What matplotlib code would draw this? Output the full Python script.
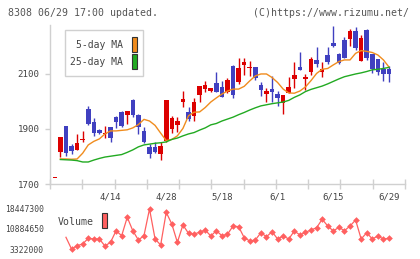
import numpy as np
import matplotlib
matplotlib.use("Agg")
import matplotlib.pyplot as plt
from matplotlib.patches import Rectangle

# candle data (index 0 = 3/31 ... index 60 = 6/29)
opens = [1721, 1817, 1911, 1838, 1825, 1861, 1973, 1925, 1896, 1881, 1907,
         1945, 1960, 1950, 2005, 1951, 1893, 1833, 1836, 1808, 1857,
         1899, 1915, 1997, 1962, 1948, 2025, 2044, 2039, 2066, 2052,
         2036, 2129, 2072, 2131, 2121, 2124, 2060, 2028, 2045, 2027,
         1993, 2030, 2082, 2127, 2081, 2108, 2151, 2108, 2169, 2214,
         2173, 2224, 2227, 2256, 2148, 2260, 2173, 2155, 2117, 2117]
closes = [1722, 1871, 1812, 1820, 1849, 1863, 1919, 1887, 1884, 1884, 1866,
          1926, 1911, 1965, 1951, 1908, 1854, 1808, 1817, 1839, 2005,
          1939, 1930, 2009, 1936, 1997, 2056, 2060, 2048, 2036, 2018,
          2078, 2024, 2121, 2142, 2125, 2084, 2042, 2038, 2036, 2014,
          2024, 2053, 2096, 2115, 2088, 2155, 2137, 2118, 2145, 2202,
          2141, 2159, 2256, 2196, 2230, 2159, 2117, 2106, 2100, 2100]
highs = [1722, 1871, 1911, 1845, 1882, 1894, 1985, 1939, 1900, 1911, 1907,
         1947, 1966, 1965, 2009, 1953, 1906, 1844, 1853, 1854, 2005,
         1947, 1945, 2038, 1981, 2012, 2056, 2076, 2050, 2106, 2075,
         2087, 2133, 2157, 2157, 2147, 2127, 2070, 2050, 2093, 2039,
         2024, 2090, 2145, 2181, 2100, 2161, 2199, 2142, 2197, 2276,
         2176, 2233, 2264, 2270, 2240, 2264, 2173, 2155, 2145, 2129]
lows = [1721, 1799, 1802, 1809, 1825, 1852, 1915, 1876, 1880, 1866, 1854,
        1902, 1906, 1918, 1945, 1880, 1848, 1793, 1812, 1787, 1853,
        1884, 1890, 1979, 1929, 1930, 1997, 2036, 2036, 2036, 2015,
        2030, 2014, 2064, 2096, 2094, 2078, 2021, 1999, 1997, 1985,
        1955, 2030, 2048, 2115, 2042, 2096, 2127, 2088, 2135, 2199,
        2135, 2159, 2203, 2187, 2148, 2152, 2102, 2096, 2075, 2070]

nan = np.nan
ma5 = [nan, 1791, 1791, 1790, 1791, 1812, 1842, 1855, 1864, 1882, 1893,
       1893, 1895, 1897, 1904, 1916, 1935, 1929, 1913, 1885, 1858,
       1862, 1875, 1902, 1948, 1961, 1962, 1978, 1998, 2013, 2027,
       2038, 2045, 2045, 2055, 2075, 2093, 2100, 2100, 2087, 2069,
       2045, 2031, 2030, 2038, 2053, 2076, 2102, 2117, 2120, 2133,
       2145, 2151, 2151, 2175, 2185, 2182, 2178, 2169, 2151, 2125]
ma25 = [nan, 1789, 1788, 1787, 1785, 1780, 1780, 1787, 1793, 1798, 1801,
        1804, 1807, 1815, 1824, 1835, 1842, 1845, 1848, 1850, 1853,
        1862, 1867, 1875, 1882, 1887, 1896, 1904, 1915, 1920, 1929,
        1936, 1943, 1952, 1960, 1969, 1977, 1984, 1988, 1992, 1995,
        1998, 2004, 2015, 2024, 2036, 2044, 2050, 2056, 2064, 2073,
        2082, 2090, 2095, 2100, 2104, 2109, 2115, 2117, 2120, 2124]

volume = [nan, nan, 7750000, 3430000, 4650000, 5280000, 7380000, 7120000,
          7120000, 4540000, 5900000, 10180000, 8340000, 15130000, 10180000,
          6750000, 8340000, 18190000, 7120000, 4910000, 16970000, 12660000,
          5900000, 12290000, 9220000, 8970000, 9590000, 10440000, 8230000,
          10180000, 8340000, 8860000, 11920000, 11660000, 7600000, 6380000,
          6750000, 9450000, 7970000, 9810000, 7120000, 8230000, 7120000,
          10070000, 8600000, 9590000, 10440000, 11290000, 14390000, 11920000,
          10070000, 11440000, 10180000, 11920000, 14130000, 7120000, 9450000,
          7120000, 8230000, 7120000, 7380000]

date_pos = [10, 20, 30, 40, 50, 60]
date_labels = ["4/14", "4/28", "5/18", "6/1", "6/15", "6/29"]
price_ticks = [1700, 1900, 2100]
vol_ticks = [3322000, 10884650, 18447300]
vol_labels = ["3322000", "10884650", "18447300"]

RED = "#dc0000"
BLUE = "#4040c0"
ORANGE = "#f08c1e"
GREEN = "#22aa22"
VOLC = "#ff6060"
AXC = "#d0d0d0"
TXT = "#444444"
MONO = "DejaVu Sans Mono"

W, H = 420, 259
fig = plt.figure(figsize=(W / 100, H / 100), dpi=100)

XLO, XHI = -0.867, 62.87


def frac(x0, y0, x1, y1):
    return [x0 / W, 1 - y1 / H, (x1 - x0) / W, (y1 - y0) / H]


ax = fig.add_axes(frac(50, 25, 405, 184))
x = np.arange(len(opens))
o = np.array(opens, float)
c = np.array(closes, float)
colors = [RED if cc >= oo else BLUE for oo, cc in zip(o, c)]
ax.vlines(x, lows, highs, colors=colors, linewidth=1.0, zorder=2)
bottoms = np.minimum(o, c)
heights = np.maximum(np.abs(c - o), 3.5)
ax.bar(x, heights, bottom=bottoms, width=0.82, color=colors, linewidth=0, zorder=3)
ax.plot(x, ma5, color=ORANGE, linewidth=1.0, zorder=4)
ax.plot(x, ma25, color=GREEN, linewidth=1.0, zorder=4)

ax.set_xlim(XLO, XHI)
ax.set_ylim(1700, 2278)
for s in ("top", "right"):
    ax.spines[s].set_visible(False)
for s in ("left", "bottom"):
    ax.spines[s].set_color(AXC)
    ax.spines[s].set_linewidth(1)
ax.set_xticks(np.linspace(XLO, XHI, 12))
ax.set_xticklabels([])
ax.tick_params(axis="x", which="major", direction="inout", length=6.5, color=AXC, width=1)
ax.set_xticks(date_pos, minor=True)
ax.set_xticklabels(date_labels, minor=True, fontsize=6.5, family=MONO, color=TXT)
ax.tick_params(axis="x", which="minor", length=0, pad=6)
ax.set_yticks(price_ticks)
ax.set_yticklabels([str(v) for v in price_ticks], fontsize=6.6, family=MONO, color=TXT)
ax.tick_params(axis="y", direction="out", length=3.6, color=AXC, width=1, pad=4)

# MA legend box
fig.patches.append(Rectangle((65 / W, 1 - 76 / H), 78 / W, 46 / H, transform=fig.transFigure,
                             facecolor="white", edgecolor=AXC, linewidth=1, zorder=5))
fig.text(123 / W, 1 - 45 / H, "5-day MA", ha="right", va="center", fontsize=7, family=MONO,
         color=TXT, zorder=6)
fig.text(123 / W, 1 - 62 / H, "25-day MA", ha="right", va="center", fontsize=7, family=MONO,
         color=TXT, zorder=6)
fig.patches.append(Rectangle((131.5 / W, 1 - 52 / H), 5.5 / W, 15 / H, transform=fig.transFigure,
                             facecolor=ORANGE, edgecolor="#333333", linewidth=0.8, zorder=6))
fig.patches.append(Rectangle((131.5 / W, 1 - 69 / H), 5.5 / W, 15 / H, transform=fig.transFigure,
                             facecolor=GREEN, edgecolor="#333333", linewidth=0.8, zorder=6))

# volume panel
vax = fig.add_axes(frac(50, 205, 405, 253))
v = np.array(volume, float)
vax.plot(x, v, color=VOLC, linewidth=0.9)
vax.plot(x[3:], v[3:], linestyle="none", marker="D", markersize=3.4, markeredgewidth=0,
         color=VOLC)
vax.set_xlim(XLO, XHI)
vax.set_ylim(1957033, 19664703)
for s in vax.spines.values():
    s.set_visible(False)
vax.set_xticks([])
vax.set_yticks(vol_ticks)
vax.set_yticklabels(vol_labels, fontsize=5.8, family=MONO, color=TXT)
vax.tick_params(axis="y", length=0, pad=4.5)
vax.set_facecolor("none")

fig.text(94 / W, 1 - 222 / H, "Volume", ha="right", va="center", fontsize=7.1, family=MONO, color=TXT)
fig.patches.append(Rectangle((101.7 / W, 1 - 228.3 / H), 5.6 / W, 15.6 / H, transform=fig.transFigure,
                             facecolor=VOLC, edgecolor="#333333", linewidth=0.8, zorder=6))

# header
fig.text(8 / W, 1 - 12.5 / H, "8308 06/29 17:00 updated.", ha="left", va="center", fontsize=7.1,
         family=MONO, color="#555555")
fig.text(409 / W, 1 - 12.5 / H, "(C)https://www.rizumu.net/", ha="right", va="center", fontsize=7.1,
         family=MONO, color="#555555")

fig.savefig("out.png", dpi=100)
